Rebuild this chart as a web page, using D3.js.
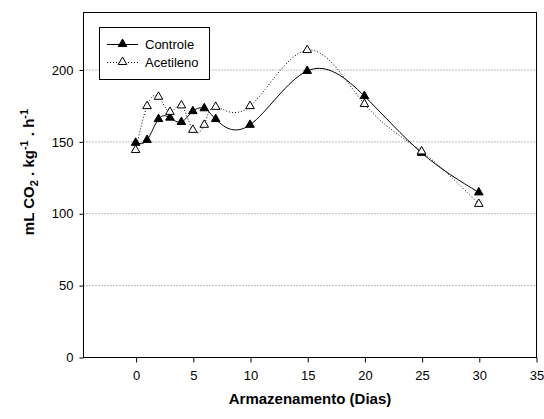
<!DOCTYPE html>
<html>
<head>
<meta charset="utf-8">
<script src="https://cdn.jsdelivr.net/npm/d3@7"></script>
<style>
  html, body { margin: 0; padding: 0; background: #fff; }
  svg { display: block; font-family: Arial, "Liberation Sans", sans-serif; }
</style>
</head>
<body>
<svg id="chart" width="544" height="419"></svg>
<script>
// Storage days and respiration rates (mL CO2 kg-1 h-1)
const days = [0, 1, 2, 3, 4, 5, 6, 7, 10, 15, 20, 25, 30];
const controle = [149, 151, 165.5, 166.5, 163.5, 171, 173, 165.5, 161.5, 199, 181.5, 142, 114.5];
const acetileno = [144, 174.5, 181, 170.5, 175, 158, 161.5, 174, 174.5, 213.5, 176, 143, 106.5];
const seriesNames = ["Controle", "Acetileno"];
const xTicks = [0, 5, 10, 15, 20, 25, 30, 35];
const yTicks = [0, 50, 100, 150, 200];

const svg = d3.select("#chart");
const m = { left: 83, top: 12, right: 536, bottom: 357 };

const x = d3.scaleLinear().domain([-4.6, 35]).range([m.left, m.right]);
const y = d3.scaleLinear().domain([0, 240]).range([m.bottom, m.top]);

// horizontal reference lines
svg.append("g")
  .selectAll("line")
  .data(yTicks.filter(v => v > 0))
  .join("line")
  .attr("x1", m.left).attr("x2", m.right)
  .attr("y1", d => y(d) + 0.5).attr("y2", d => y(d) + 0.5)
  .attr("stroke", "#bcbcbc")
  .attr("stroke-width", 1)
  .attr("stroke-dasharray", "2,1");

// frame
svg.append("rect")
  .attr("x", m.left + 0.5).attr("y", m.top + 0.5)
  .attr("width", m.right - m.left).attr("height", m.bottom - m.top)
  .attr("fill", "none").attr("stroke", "#000").attr("stroke-width", 1);

// axes
const xAxis = d3.axisBottom(x).tickValues(xTicks).tickSize(5).tickPadding(8);
const gx = svg.append("g").attr("transform", `translate(0.5,${m.bottom + 0.5})`).call(xAxis);
gx.select(".domain").remove();
gx.selectAll("text").attr("font-size", 13).attr("fill", "#000")
  .attr("font-family", "Arial, 'Liberation Sans', sans-serif");

const yAxis = d3.axisLeft(y).tickValues(yTicks).tickSize(4).tickPadding(6);
const gy = svg.append("g").attr("transform", `translate(${m.left + 0.5},0.5)`).call(yAxis);
gy.select(".domain").remove();
gy.selectAll("text").attr("font-size", 13).attr("fill", "#000")
  .attr("font-family", "Arial, 'Liberation Sans', sans-serif");

// axis titles
svg.append("text")
  .attr("x", 310).attr("y", 404)
  .attr("text-anchor", "middle")
  .attr("font-size", 15).attr("font-weight", "bold")
  .text("Armazenamento (Dias)");

const yt = svg.append("text")
  .attr("transform", "translate(34,172) rotate(-90)")
  .attr("text-anchor", "middle")
  .attr("font-size", 15).attr("font-weight", "bold");
yt.append("tspan").text("mL CO");
yt.append("tspan").attr("font-size", 11).attr("dy", 4).text("2");
yt.append("tspan").attr("dy", -4).text(" . kg");
yt.append("tspan").attr("font-size", 11).attr("dy", -6).text("-1");
yt.append("tspan").attr("dy", 6).text(" . h");
yt.append("tspan").attr("font-size", 11).attr("dy", -6).text("-1");

// series
const line = d3.line()
  .x(d => x(d[0]))
  .y(d => y(d[1]))
  .curve(d3.curveNatural);

const tri = d3.symbol().type(d3.symbolTriangle).size(32);

const series = [
  { name: seriesNames[0], values: controle, dash: null, fill: "#000" },
  { name: seriesNames[1], values: acetileno, dash: "1,2", fill: "#fff" }
];

series.forEach(s => {
  const pts = days.map((d, i) => [d, s.values[i]]);
  svg.append("path")
    .datum(pts)
    .attr("d", line)
    .attr("fill", "none")
    .attr("stroke", "#000")
    .attr("stroke-width", 1)
    .attr("stroke-dasharray", s.dash);
});

series.forEach(s => {
  const pts = days.map((d, i) => [d, s.values[i]]);
  svg.append("g")
    .selectAll("path")
    .data(pts)
    .join("path")
    .attr("d", tri)
    .attr("transform", d => `translate(${x(d[0])},${y(d[1])})`)
    .attr("fill", s.fill)
    .attr("stroke", "#000")
    .attr("stroke-width", 1);
});

// legend
const lg = svg.append("g");
lg.append("rect")
  .attr("x", 99.5).attr("y", 27.5)
  .attr("width", 110).attr("height", 52)
  .attr("fill", "#fff").attr("stroke", "#000").attr("stroke-width", 1);

series.forEach((s, i) => {
  const ly = 44 + i * 18;
  lg.append("line")
    .attr("x1", 107).attr("x2", 138)
    .attr("y1", ly + 0.5).attr("y2", ly + 0.5)
    .attr("stroke", "#000").attr("stroke-width", 1)
    .attr("stroke-dasharray", s.dash);
  lg.append("path")
    .attr("d", tri)
    .attr("transform", `translate(122.5,${ly})`)
    .attr("fill", s.fill).attr("stroke", "#000").attr("stroke-width", 1);
  lg.append("text")
    .attr("x", 145).attr("y", ly + 5)
    .attr("font-size", 13)
    .text(s.name);
});
</script>
</body>
</html>
